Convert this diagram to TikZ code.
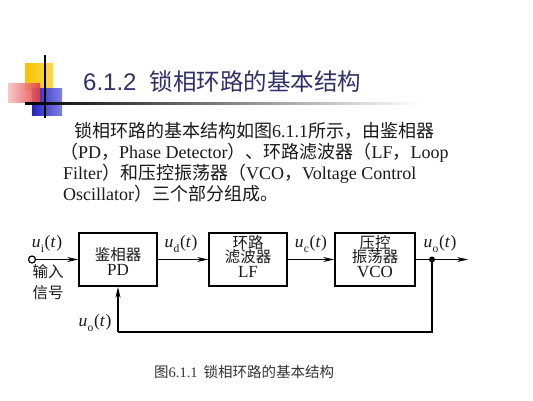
\documentclass[tikz,border=0pt]{standalone}
\usepackage{fontspec}
\setmainfont{Liberation Serif}
\newfontfamily\zh{Noto Sans CJK SC}
\newfontfamily\ttl{Liberation Sans}
\usetikzlibrary{arrows.meta}
\definecolor{navy}{RGB}{48,48,104}
\definecolor{gold}{RGB}{247,196,0}
\definecolor{goldl}{RGB}{250,216,80}
\definecolor{bluep}{RGB}{36,36,190}
\definecolor{bluel}{RGB}{130,130,228}
\definecolor{redp}{RGB}{228,60,60}
\definecolor{redl}{RGB}{248,195,195}
\definecolor{txt}{RGB}{25,25,25}
\newcommand\sig[1]{\textit{u}\kern0.3pt\raisebox{-0.28em}{\fontsize{11.5}{12}\selectfont #1}\kern0.6pt(\textit{t}\kern0.5pt)}
\begin{document}
\begin{tikzpicture}[x=1pt,y=-1pt,
  body/.style={anchor=base west, inner sep=0, font=\fontsize{18}{21}\selectfont, text=txt},
  blk/.style={draw, line width=1.6pt, minimum width=78pt, minimum height=53pt, inner sep=0},
  btxt/.style={inner sep=0, font=\fontsize{15.5}{16}\selectfont, text=txt},
  bltx/.style={inner sep=0, font=\fontsize{17}{17}\selectfont, text=txt},
  lbl/.style={inner sep=0, font=\fontsize{17.5}{18}\selectfont, text=txt},
  sig/.style={line width=1.2pt, -{Stealth[length=11pt,width=5pt]}},
  wire/.style={line width=1.2pt}]
\useasboundingbox (0,0) rectangle (533,400);
% decoration
\shade[left color=gold, right color=goldl] (25,63) rectangle (53,90);
\shade[left color=bluep, right color=bluel] (32,88) rectangle (62,115);
\shade[left color=redl, right color=redp, opacity=0.9] (8,83) rectangle (40,102);
\shade[left color=black, right color=gray!60] (25,102) rectangle (300,104);
\shade[left color=gray!60, right color=white] (300,102) rectangle (420,104);
\draw[line width=1.5pt, black] (45,55) -- (45,118);
% title
\node[anchor=base west, inner sep=0, text=navy] (title) at (83,90)
  {{\fontsize{24}{26}\selectfont\ttl 6.1.2}\hspace{13pt}{\fontsize{23.5}{26}\selectfont\zh 锁相环路的基本结构}};
% body
\node[body] (l1) at (74,137) {{\zh 锁相环路的基本结构如图}6.1.1{\zh 所示，由鉴相器}};
\node[body] (l2) at (60,158) {{\zh （}PD{\zh ，}Phase Detector{\zh ）、环路滤波器（}LF{\zh ，}Loop};
\node[body] (l3) at (63,179) {Filter{\zh ）和压控振荡器（}VCO{\zh ，}Voltage Control};
\node[body] (l4) at (63,200) {Oscillator{\zh ）三个部分组成。}};
% blocks
\node[blk] (pd) at (118,259.5) {};
\node[blk] (lf) at (248,259.5) {};
\node[blk, minimum width=80pt] (vco) at (375,259.5) {};
\node[btxt] (pd1) at (118,255) {\zh 鉴相器};
\node[bltx] (pd2) at (118,270) {PD};
\node[btxt] (lf1) at (248,243) {\zh 环路};
\node[btxt] (lf2) at (248,257) {\zh 滤波器};
\node[bltx] (lf3) at (248,271.5) {LF};
\node[btxt] (vc1) at (375,243) {\zh 压控};
\node[btxt] (vc2) at (375,257) {\zh 振荡器};
\node[bltx] (vc3) at (375,271.5) {VCO};
% input
\node[circle, draw, line width=1.2pt, minimum size=7pt, inner sep=0, fill=white] (in) at (32,259.5) {};
\draw[sig] (in.east) -- (pd.west);
\draw[sig] (pd.east) -- (lf.west);
\draw[sig] (lf.east) -- (vco.west);
\coordinate (out) at (468,259.5);
\node[circle, fill=black, minimum size=6pt, inner sep=0] (dot) at (432,259.5) {};
\draw[sig] (vco.east) -- (out);
\coordinate (c1) at (432,332);
\coordinate (c2) at (118,332);
\draw[wire] (dot.center) -- (c1) -- (c2);
\draw[sig] (c2) -- (pd.south);
% labels
\node[lbl] (ui) at (47,244) {\sig{i}};
\node[lbl] (ud) at (181,244) {\sig{d}};
\node[lbl] (uc) at (311,244) {\sig{c}};
\node[lbl] (uo) at (440,244) {\sig{o}};
\node[lbl] (uof) at (95,323) {\sig{o}};
\node[btxt] (in1) at (48,272) {\zh 输入};
\node[btxt] (in2) at (48,293) {\zh 信号};
% caption
\node[anchor=base west, inner sep=0, font=\fontsize{14.5}{16}\selectfont, text=black!80] (cap) at (154,377)
  {{\zh 图}6.1.1\hspace{6pt}{\zh 锁相环路的基本结构}};
\end{tikzpicture}
\end{document}
